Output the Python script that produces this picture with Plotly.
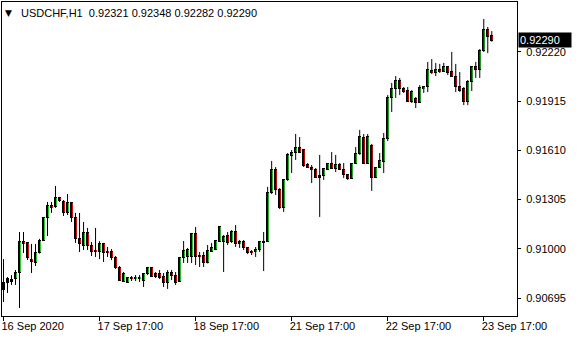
import plotly.graph_objects as go

symbol = "USDCHF,H1"
tick_bars = [0, 24, 48, 72, 96, 120]
tick_labels = ["16 Sep 2020", "17 Sep 17:00", "18 Sep 17:00",
               "21 Sep 17:00", "22 Sep 17:00", "23 Sep 17:00"]
price_ticks = [0.90695, 0.91000, 0.91305, 0.91610, 0.91915, 0.92220]

opens = [0.90745, 0.90788, 0.90803, 0.90813, 0.90856, 0.91042, 0.91036, 0.90936, 0.90918, 0.90974,
         0.91054, 0.91191, 0.91271, 0.91259, 0.91315, 0.91290, 0.91222, 0.91284, 0.91191, 0.91061,
         0.91023, 0.91098, 0.91023, 0.90992, 0.90986, 0.91030, 0.90986, 0.90986, 0.90943, 0.90887,
         0.90800, 0.90794, 0.90825, 0.90813, 0.90813, 0.90806, 0.90844, 0.90881, 0.90844, 0.90844,
         0.90831, 0.90794, 0.90850, 0.90837, 0.90800, 0.90943, 0.90949, 0.90949, 0.91092, 0.90961,
         0.90961, 0.90912, 0.90986, 0.90998, 0.91048, 0.91042, 0.91085, 0.91042, 0.91110, 0.91030,
         0.91048, 0.91005, 0.90986, 0.90980, 0.90998, 0.91048, 0.91048, 0.91346, 0.91494, 0.91364,
         0.91253, 0.91426, 0.91575, 0.91599, 0.91630, 0.91612, 0.91519, 0.91506, 0.91494, 0.91451,
         0.91451, 0.91494, 0.91531, 0.91500, 0.91519, 0.91494, 0.91457, 0.91438, 0.91531, 0.91587,
         0.91692, 0.91531, 0.91642, 0.91444, 0.91506, 0.91538, 0.91686, 0.91940, 0.91990, 0.92045,
         0.91990, 0.91983, 0.91915, 0.91928, 0.91909, 0.91990, 0.92002, 0.92107, 0.92089, 0.92113,
         0.92101, 0.92126, 0.92095, 0.92070, 0.92002, 0.91990, 0.91915, 0.92039, 0.92132, 0.92113,
         0.92225, 0.92361, 0.92321]
highs = [0.90936, 0.90825, 0.90837, 0.90868, 0.91104, 0.91104, 0.91042, 0.91030, 0.91030, 0.91061,
         0.91197, 0.91290, 0.91290, 0.91389, 0.91321, 0.91302, 0.91339, 0.91290, 0.91222, 0.91222,
         0.91166, 0.91129, 0.91042, 0.91129, 0.91048, 0.91036, 0.91011, 0.90998, 0.90955, 0.90893,
         0.90856, 0.90825, 0.90831, 0.90837, 0.90837, 0.90850, 0.90887, 0.90884, 0.90856, 0.90868,
         0.90850, 0.90868, 0.90868, 0.90856, 0.90949, 0.91048, 0.91005, 0.91098, 0.91135, 0.90980,
         0.90980, 0.91023, 0.91036, 0.91054, 0.91135, 0.91085, 0.91104, 0.91116, 0.91147, 0.91054,
         0.91054, 0.91011, 0.90992, 0.91011, 0.91048, 0.91104, 0.91383, 0.91544, 0.91506, 0.91376,
         0.91432, 0.91593, 0.91612, 0.91711, 0.91692, 0.91618, 0.91531, 0.91519, 0.91500, 0.91581,
         0.91500, 0.91531, 0.91599, 0.91581, 0.91531, 0.91531, 0.91463, 0.91531, 0.91630, 0.91736,
         0.91711, 0.91711, 0.91649, 0.91506, 0.91593, 0.91717, 0.91952, 0.92027, 0.92070, 0.92058,
         0.92002, 0.92002, 0.91983, 0.91940, 0.92014, 0.92002, 0.92157, 0.92175, 0.92151, 0.92145,
         0.92151, 0.92132, 0.92219, 0.92145, 0.92095, 0.92002, 0.92045, 0.92132, 0.92157, 0.92237,
         0.92423, 0.92374, 0.92348]
lows = [0.90670, 0.90726, 0.90776, 0.90776, 0.90633, 0.90974, 0.90930, 0.90850, 0.90893, 0.90970,
        0.91048, 0.91079, 0.91222, 0.91253, 0.91290, 0.91203, 0.91209, 0.91166, 0.91036, 0.90980,
        0.90992, 0.90992, 0.90955, 0.90949, 0.90936, 0.90918, 0.90949, 0.90930, 0.90875, 0.90800,
        0.90794, 0.90788, 0.90800, 0.90800, 0.90794, 0.90763, 0.90837, 0.90825, 0.90819, 0.90813,
        0.90763, 0.90751, 0.90806, 0.90776, 0.90794, 0.90912, 0.90912, 0.90912, 0.90899, 0.90887,
        0.90887, 0.90909, 0.90980, 0.90992, 0.91042, 0.90856, 0.91023, 0.91036, 0.91011, 0.91005,
        0.90992, 0.90967, 0.90961, 0.90949, 0.90980, 0.90862, 0.91042, 0.91339, 0.91333, 0.91246,
        0.91228, 0.91420, 0.91469, 0.91550, 0.91593, 0.91506, 0.91500, 0.91407, 0.91438, 0.91197,
        0.91426, 0.91488, 0.91494, 0.91475, 0.91488, 0.91438, 0.91426, 0.91435, 0.91525, 0.91581,
        0.91525, 0.91525, 0.91358, 0.91438, 0.91500, 0.91469, 0.91667, 0.91847, 0.91934, 0.91952,
        0.91965, 0.91909, 0.91903, 0.91872, 0.91903, 0.91965, 0.91971, 0.92082, 0.92070, 0.92089,
        0.92095, 0.92076, 0.92064, 0.91971, 0.91971, 0.91890, 0.91890, 0.91977, 0.92058, 0.92058,
        0.92219, 0.92212, 0.92282]
closes = [0.90788, 0.90813, 0.90808, 0.90850, 0.91042, 0.91030, 0.90943, 0.90924, 0.90974, 0.91054,
          0.91191, 0.91271, 0.91253, 0.91315, 0.91296, 0.91222, 0.91284, 0.91191, 0.91061, 0.91030,
          0.91098, 0.91023, 0.90986, 0.90980, 0.91030, 0.90974, 0.90974, 0.90943, 0.90887, 0.90806,
          0.90844, 0.90819, 0.90813, 0.90825, 0.90825, 0.90844, 0.90881, 0.90831, 0.90831, 0.90825,
          0.90794, 0.90856, 0.90837, 0.90794, 0.90943, 0.90992, 0.90998, 0.91092, 0.90955, 0.90949,
          0.90912, 0.90992, 0.91005, 0.91054, 0.91135, 0.91079, 0.91036, 0.91110, 0.91030, 0.91042,
          0.91005, 0.90974, 0.90974, 0.90998, 0.91042, 0.91042, 0.91346, 0.91494, 0.91364, 0.91253,
          0.91426, 0.91581, 0.91599, 0.91630, 0.91599, 0.91513, 0.91506, 0.91488, 0.91444, 0.91444,
          0.91500, 0.91531, 0.91500, 0.91519, 0.91488, 0.91457, 0.91438, 0.91531, 0.91587, 0.91698,
          0.91531, 0.91698, 0.91444, 0.91506, 0.91544, 0.91686, 0.91940, 0.91990, 0.92045, 0.91990,
          0.91977, 0.91915, 0.91977, 0.91909, 0.91996, 0.92002, 0.92113, 0.92089, 0.92113, 0.92095,
          0.92126, 0.92089, 0.92070, 0.92002, 0.91983, 0.91915, 0.92039, 0.92132, 0.92113, 0.92225,
          0.92361, 0.92312, 0.92290]

Y_RANGE = [0.905835, 0.925284]
X_RANGE = [-0.375, 128.3]
MARGIN = dict(l=2, r=63, t=2, b=24)
H = 340
px_price = (Y_RANGE[1] - Y_RANGE[0]) / (H - MARGIN["t"] - MARGIN["b"])  # price per pixel

n = len(closes)
bars = list(range(n))

# wicks
wx, wy = [], []
for i in bars:
    wx += [i, i, None]
    wy += [lows[i], highs[i], None]

# bodies: black frame + coloured core
fx, fbase, fh = [], [], []
ux, ubase, uh = [], [], []
dx, dbase, dh = [], [], []
for i in bars:
    lo = min(opens[i], closes[i])
    hi = max(opens[i], closes[i])
    lo_f = lo - 0.5 * px_price
    hi_f = hi + 0.5 * px_price
    fx.append(i); fbase.append(lo_f); fh.append(hi_f - lo_f)
    core_lo, core_hi = lo_f + px_price, hi_f - px_price
    if core_hi - core_lo > 0.3 * px_price:
        if closes[i] >= opens[i]:
            ux.append(i); ubase.append(core_lo); uh.append(core_hi - core_lo)
        else:
            dx.append(i); dbase.append(core_lo); dh.append(core_hi - core_lo)

fig = go.Figure()
fig.add_trace(go.Scatter(x=wx, y=wy, mode="lines",
                         line=dict(color="black", width=1), hoverinfo="skip"))
fig.add_trace(go.Bar(x=fx, y=fh, base=fbase, width=0.75,
                     marker=dict(color="black", line=dict(width=0))))
fig.add_trace(go.Bar(x=ux, y=uh, base=ubase, width=0.25,
                     marker=dict(color="#32CD32", line=dict(width=0))))
fig.add_trace(go.Bar(x=dx, y=dh, base=dbase, width=0.25,
                     marker=dict(color="#E01010", line=dict(width=0))))

font = dict(family="Liberation Sans, Arial, sans-serif", size=11, color="black")

fig.update_layout(
    width=580, height=H,
    margin=MARGIN,
    paper_bgcolor="white", plot_bgcolor="white",
    showlegend=False, barmode="overlay", bargap=0,
    font=font,
    xaxis=dict(range=X_RANGE, showgrid=False, zeroline=False,
               showline=True, linecolor="black", linewidth=1, mirror=True,
               tickmode="array", tickvals=tick_bars, ticktext=tick_labels,
               ticks="outside", ticklen=4, tickcolor="black", tickwidth=1,
               ticklabelposition="outside right", ticklabelshift=-3, tickfont=font),
    yaxis=dict(range=Y_RANGE, side="right", showgrid=False, zeroline=False,
               showline=True, linecolor="black", linewidth=1, mirror=True,
               tickmode="array", tickvals=price_ticks,
               ticktext=[f"{v:.5f}" for v in price_ticks],
               ticks="outside", ticklen=3, tickcolor="black", tickwidth=1,
               ticklabelstandoff=3, tickfont=font),
)

header = f"{symbol}  {opens[-1]:.5f} {highs[-1]:.5f} {lows[-1]:.5f} {closes[-1]:.5f}"
fig.add_annotation(xref="paper", yref="paper", x=0, y=1, xanchor="left", yanchor="top",
                   xshift=1, yshift=-4, text="▼", showarrow=False,
                   font=dict(family="DejaVu Sans", size=9, color="black"))
fig.add_annotation(xref="paper", yref="paper", x=0, y=1, xanchor="left", yanchor="top",
                   xshift=17, yshift=-3, text=header, showarrow=False, font=font)
fig.add_annotation(xref="paper", yref="y", x=1, y=closes[-1], xanchor="left", yanchor="middle",
                   xshift=1, text=f"{closes[-1]:.5f}", showarrow=False,
                   bgcolor="black", borderpad=1, width=50, align="left",
                   font=dict(family="Liberation Sans, Arial, sans-serif", size=11, color="white"))

fig.write_html("out.html")
